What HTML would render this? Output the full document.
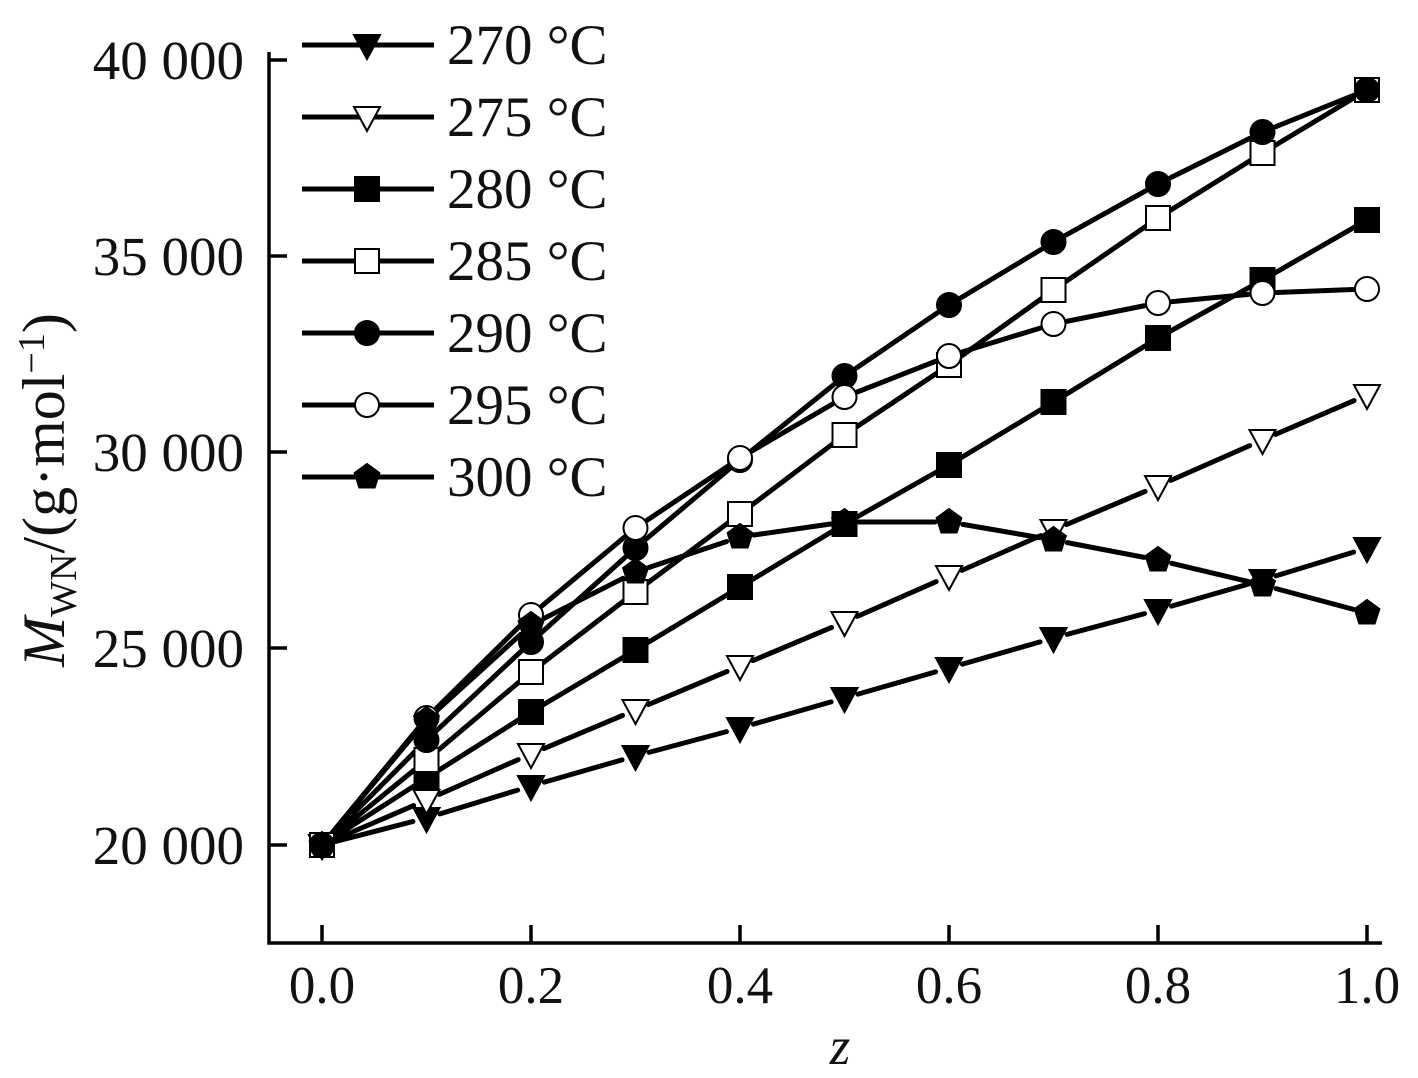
<!DOCTYPE html>
<html><head><meta charset="utf-8"><style>
html,body{margin:0;padding:0;background:#fff;}
svg{display:block;font-family:"Liberation Serif",serif;}
</style></head><body>
<svg id="s" width="1418" height="1078" viewBox="0 0 1418 1078" xmlns="http://www.w3.org/2000/svg">
<g stroke="#000" stroke-width="3.5" fill="none">
<path d="M269,52 V943 H1382"/>
<path d="M269,60 h18 M269,256 h18 M269,452 h18 M269,648 h18 M269,845 h18"/>
<path d="M322,943 v-18 M531,943 v-18 M740,943 v-18 M949,943 v-18 M1158,943 v-18 M1367,943 v-18"/>
</g>
<g font-size="55" text-anchor="end" fill="#111">
<text x="244" y="79">40 000</text>
<text x="244" y="275">35 000</text>
<text x="244" y="471">30 000</text>
<text x="244" y="667">25 000</text>
<text x="244" y="864">20 000</text>
</g>
<g font-size="53" text-anchor="middle" fill="#111">
<text x="322" y="1003">0.0</text>
<text x="531" y="1003">0.2</text>
<text x="740" y="1003">0.4</text>
<text x="949" y="1003">0.6</text>
<text x="1158" y="1003">0.8</text>
<text x="1367" y="1003">1.0</text>
<text x="840" y="1064" font-style="italic">z</text>
</g>
<text transform="translate(64,490) rotate(-90)" text-anchor="middle" font-size="60" fill="#111"><tspan font-style="italic">M</tspan><tspan font-size="38" dy="12">WN</tspan><tspan dy="-12">/(g·mol</tspan><tspan font-size="38" dy="-20">−1</tspan><tspan dy="20">)</tspan></text>
<g font-size="57" fill="#111">
<text x="447" y="64">270 °C</text>
<text x="447" y="136">275 °C</text>
<text x="447" y="208">280 °C</text>
<text x="447" y="280">285 °C</text>
<text x="447" y="352">290 °C</text>
<text x="447" y="424">295 °C</text>
<text x="447" y="496">300 °C</text>
</g>
<g id="g"></g>
</svg>
<script>
var NS="http://www.w3.org/2000/svg",g=document.getElementById('g');
function el(t,a){var e=document.createElementNS(NS,t);for(var k in a)e.setAttribute(k,a[k]);g.appendChild(e);return e;}
function mk(type,x,y){
 if(type==0||type==1){el('polygon',{points:(x-13)+','+(y-10)+' '+(x+13)+','+(y-10)+' '+x+','+(y+14),fill:type==0?'#000':'#fff',stroke:'#000','stroke-width':2});}
 else if(type==2||type==3){el('rect',{x:x-12,y:y-12,width:24,height:24,fill:type==2?'#000':'#fff',stroke:'#000','stroke-width':2});}
 else if(type==4||type==5){el('circle',{cx:x,cy:y,r:12,fill:type==4?'#000':'#fff',stroke:'#000','stroke-width':2});}
 else {var p=[];for(var i=0;i<5;i++){var a=-Math.PI/2+i*2*Math.PI/5;p.push((x+13*Math.cos(a))+','+(y+13*Math.sin(a)));}el('polygon',{points:p.join(' '),fill:'#000',stroke:'#000','stroke-width':2});}
}
function seg(x1,y1,x2,y2,gap){var dx=x2-x1,dy=y2-y1,L=Math.hypot(dx,dy);if(L<2*gap)return;var ux=dx/L,uy=dy/L;
 el('line',{x1:x1+ux*gap,y1:y1+uy*gap,x2:x2-ux*gap,y2:y2-uy*gap,stroke:'#000','stroke-width':5,'stroke-linecap':'round'});}
var D=[
[845,818,786,756,728,698,668,638,610,580,548],
[845,800,754,710,666,622,576,530,486,440,395],
[845,778,712,650,587,524,465,402,338,280,220],
[845,760,672,592,514,435,365,290,218,153,90],
[845,740,642,548,460,376,305,242,184,132,90],
[845,718,615,528,458,397,356,324,303,293,289],
[845,720,625,572,537,522,522,540,560,585,613]];
for(var s=0;s<7;s++){var ys=D[s];
 for(var i=0;i<10;i++)seg(322+104.5*i,ys[i],322+104.5*(i+1),ys[i+1],14);
}
for(var s=0;s<7;s++){var ys=D[s];for(var i=0;i<11;i++)mk(s,322+104.5*i,ys[i]);}
for(var s=0;s<7;s++){var y=45+72*s;el('line',{x1:302,y1:y,x2:434,y2:y,stroke:'#000','stroke-width':5});mk(s,367,y);}
</script>
</body></html>
